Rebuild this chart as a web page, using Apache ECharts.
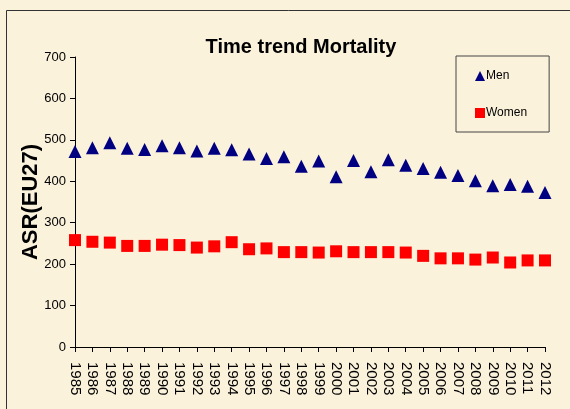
<!DOCTYPE html>
<html>
<head>
<meta charset="utf-8">
<script src="https://cdn.jsdelivr.net/npm/echarts@6/dist/echarts.min.js"></script>
<style>
    html, body { margin: 0; padding: 0; background: #FBF2DC; }
    #chart { width: 570px; height: 409px; }
</style>
</head>
<body>
<div id="chart"></div>
<script>
var years = ['1985','1986','1987','1988','1989','1990','1991','1992','1993','1994',
    '1995','1996','1997','1998','1999','2000','2001','2002','2003','2004',
    '2005','2006','2007','2008','2009','2010','2011','2012'];
var men = [472, 481, 493, 480, 477, 486, 481, 473, 480, 476,
    466, 455, 459, 436, 449, 411, 450, 423, 452, 439,
    431, 422, 414, 401, 389, 392, 388, 373];
var women = [258, 254, 252, 244, 244, 247, 246, 240, 243, 253,
    236, 238, 229, 229, 228, 231, 229, 229, 229, 228,
    220, 214, 214, 211, 216, 204, 209, 209];
var yTicks = { min: 0, max: 700, step: 100 };

var myChart = echarts.init(document.getElementById('chart'));
var font = 'Liberation Sans, Arial, sans-serif';
var option = {
    backgroundColor: '#FBF2DC',
    animation: false,
    title: {
        text: 'Time trend Mortality',
        left: 296,
        textAlign: 'center',
        top: 32,
        textStyle: { fontFamily: font, fontSize: 20, fontWeight: 'bold', color: '#000' }
    },
    graphic: [{
        type: 'rect',
        shape: { x: 6.5, y: 10.5, width: 600, height: 500 },
        style: { fill: 'none', stroke: '#333', lineWidth: 1 }
    }],
    legend: {
        orient: 'vertical',
        left: 456,
        top: 56,
        padding: [14, 22, 13, 19],
        itemGap: 25,
        itemWidth: 10,
        itemHeight: 10,
        itemStyle: { borderWidth: 0 },
        borderColor: '#444',
        borderWidth: 1,
        textStyle: { fontFamily: font, fontSize: 12, color: '#000', padding: [0, 0, 0, -4] },
        data: [
            { name: 'Men', icon: 'triangle' },
            { name: 'Women', icon: 'rect' }
        ]
    },
    grid: { left: 75, right: 25, top: 57, bottom: 62 },
    xAxis: {
        type: 'category',
        data: years,
        boundaryGap: false,
        axisLine: { lineStyle: { color: '#000' } },
        axisTick: { show: true, interval: 0, length: 5, inside: false, lineStyle: { color: '#000' } },
        axisLabel: {
            interval: 0,
            rotate: -90,
            margin: 15,
            color: '#000',
            fontFamily: font,
            fontSize: 15
        },
        splitLine: { show: false }
    },
    yAxis: {
        type: 'value',
        min: yTicks.min,
        max: yTicks.max,
        interval: yTicks.step,
        name: 'ASR(EU27)',
        nameLocation: 'middle',
        nameGap: 33,
        nameMoveOverlap: false,
        nameTextStyle: { fontFamily: font, fontSize: 22, fontWeight: 'bold', color: '#000' },
        axisLine: { show: true, lineStyle: { color: '#000' } },
        axisTick: { show: true, length: 5, lineStyle: { color: '#000' } },
        axisLabel: { color: '#000', fontFamily: font, fontSize: 13, margin: 9 },
        splitLine: { show: false }
    },
    series: [
        {
            name: 'Men',
            type: 'scatter',
            symbol: 'triangle',
            symbolSize: 13,
            itemStyle: { color: '#000080', opacity: 1 },
            data: men
        },
        {
            name: 'Women',
            type: 'scatter',
            symbol: 'rect',
            symbolSize: 12,
            itemStyle: { color: '#FF0000', opacity: 1 },
            data: women
        }
    ]
};
myChart.setOption(option);
</script>
</body>
</html>
